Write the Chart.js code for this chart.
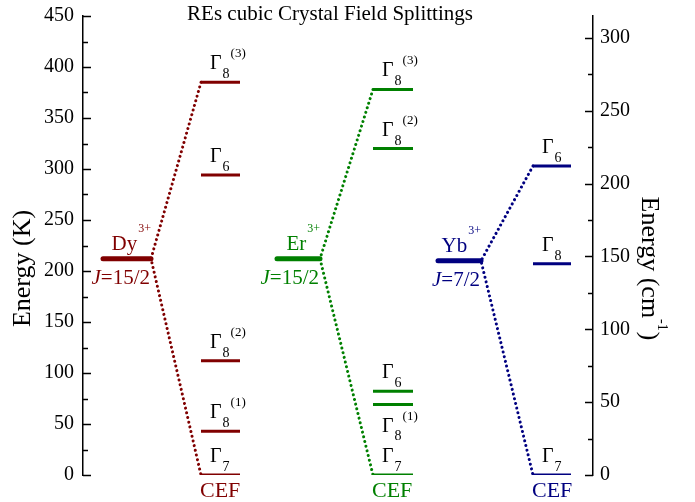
<!DOCTYPE html>
<html>
<head>
<meta charset="utf-8">
<title>REs cubic Crystal Field Splittings</title>
<script src="https://cdn.jsdelivr.net/npm/chart.js@4/dist/chart.umd.min.js"></script>
<style>
    html, body { margin: 0; padding: 0; background: #ffffff; }
    #wrap { width: 695px; height: 502px; position: relative; }
</style>
</head>
<body>
<div id="wrap"><canvas id="cef-chart"></canvas></div>
<script>
/**
 * Crystal field level schemes of Dy3+, Er3+ and Yb3+ in cubic symmetry
 */

// Data (energies in K)
const ions = ['Dy', 'Er', 'Yb'];
const ionJ = ['15/2', '15/2', '7/2'];
const freeIonK = [212, 212, 210];

const dyLevelsK = [385, 294, 112, 43, 0];
const erLevelsK = [378, 320, 82, 69, 0];
const ybLevelsK = [303, 207, 0];

const dyGammaSub = ['8', '6', '8', '8', '7'];
const dyGammaSup = ['(3)', '', '(2)', '(1)', ''];
const erGammaSub = ['8', '8', '6', '8', '7'];
const erGammaSup = ['(3)', '(2)', '', '(1)', ''];
const ybGammaSub = ['6', '8', '7'];
const ybGammaSup = ['', '', ''];

const leftTicksK = [0, 50, 100, 150, 200, 250, 300, 350, 400, 450];
const rightTicksCm = [0, 50, 100, 150, 200, 250, 300];
const K_TO_CM = 0.7;   // right axis scale as drawn in the figure

// Layout (x scale runs 0..51, columns in those units)
const X_MAX = 51;
const ionBarX = [[2.0, 6.8], [19.4, 23.7], [35.5, 39.8]];
const levelBarX = [[11.8, 15.7], [29.0, 33.0], [45.0, 48.8]];
const labelBelow = [[], [3], []];   // Er Gamma8(1) label sits under its bar
const colors = ['#800000', '#008000', '#000080'];

const levels = [dyLevelsK, erLevelsK, ybLevelsK];
const gammaSub = [dyGammaSub, erGammaSub, ybGammaSub];
const gammaSup = [dyGammaSup, erGammaSup, ybGammaSup];

const SERIF = '"Liberation Serif", "Times New Roman", serif';
Chart.defaults.font.family = SERIF;
Chart.defaults.color = '#000000';

/**
 * Build all line datasets: free-ion bar, CEF levels and dotted connectors
 */
function buildDatasets() {
    const sets = [];
    ions.forEach((ion, i) => {
        const lv = levels[i];
        const top = Math.max(...lv);
        const bottom = Math.min(...lv);

        // dotted connectors
        sets.push({
            data: [
                { x: levelBarX[i][0], y: top },
                { x: ionBarX[i][1], y: freeIonK[i] },
                { x: levelBarX[i][0], y: bottom }
            ],
            borderColor: colors[i],
            borderWidth: 3,
            borderDash: [0.01, 4.8],
            borderCapStyle: 'round',
            pointRadius: 0,
            tension: 0
        });

        // free ion J multiplet
        sets.push({
            data: [
                { x: ionBarX[i][0], y: freeIonK[i] },
                { x: ionBarX[i][1], y: freeIonK[i] }
            ],
            borderColor: colors[i],
            borderWidth: 5,
            borderCapStyle: 'round',
            pointRadius: 0
        });

        // crystal field levels
        lv.forEach(e => {
            sets.push({
                data: [
                    { x: levelBarX[i][0], y: e },
                    { x: levelBarX[i][1], y: e }
                ],
                borderColor: colors[i],
                borderWidth: 3,
                borderCapStyle: 'butt',
                pointRadius: 0
            });
        });
    });
    return sets;
}

// keep the axis box flush with the layout padding (no extra room for tick labels)
function fixAxis(width) {
    return s => {
        s.width = width;
        s.paddingTop = 0;
        s.paddingBottom = 0;
    };
}

// Inward ticks on both axes
const tickPlugin = {
    id: 'inwardTicks',
    afterDraw(chart) {
        const ctx = chart.ctx;
        const area = chart.chartArea;
        const yL = chart.scales.y;
        const yR = chart.scales.y2;
        ctx.save();
        ctx.strokeStyle = '#000000';
        ctx.lineWidth = 1.5;
        ctx.beginPath();
        for (let v = 0; v <= 450; v += 25) {
            const p = Math.round(yL.getPixelForValue(v)) + 0.5;
            const len = v % 50 === 0 ? 8 : 5;
            ctx.moveTo(area.left, p);
            ctx.lineTo(area.left + len, p);
        }
        for (let v = 0; v <= 450 * K_TO_CM; v += 25) {
            const p = Math.round(yR.getPixelForValue(v)) + 0.5;
            const len = v % 50 === 0 ? 8 : 5;
            ctx.moveTo(area.right, p);
            ctx.lineTo(area.right - len, p);
        }
        ctx.stroke();
        ctx.restore();
    }
};

// Text: level names, ion names, CEF, axis titles and chart title
const labelPlugin = {
    id: 'levelLabels',
    afterDatasetsDraw(chart) {
        const ctx = chart.ctx;
        const xs = chart.scales.x;
        const ys = chart.scales.y;
        const area = chart.chartArea;
        ctx.save();
        ctx.textBaseline = 'alphabetic';
        ctx.textAlign = 'left';

        ions.forEach((ion, i) => {
            const left = xs.getPixelForValue(levelBarX[i][0]);
            const lv = levels[i];

            lv.forEach((e, j) => {
                const py = ys.getPixelForValue(e);
                const below = labelBelow[i].includes(j);
                const gx = left + 9;
                ctx.fillStyle = '#000000';
                ctx.font = '20px ' + SERIF;
                ctx.fillText('\u0393', gx, below ? py + 27 : py - 13);
                const gw = ctx.measureText('\u0393').width;
                ctx.font = '14px ' + SERIF;
                ctx.fillText(gammaSub[i][j], gx + gw + 1, below ? py + 35 : py - 4);
                const sw = ctx.measureText(gammaSub[i][j]).width;
                if (gammaSup[i][j]) {
                    ctx.font = '13px ' + SERIF;
                    ctx.fillText(gammaSup[i][j], gx + gw + sw + 2, below ? py + 15 : py - 25);
                }
            });

            // CEF under the ground state
            const pyBottom = ys.getPixelForValue(Math.min(...lv));
            ctx.fillStyle = colors[i];
            ctx.font = '22px ' + SERIF;
            ctx.fillText('CEF', left - 1, pyBottom + 22);

            // ion name with 3+ and J value
            const right = xs.getPixelForValue(ionBarX[i][1]);
            const py = ys.getPixelForValue(freeIonK[i]);
            ctx.font = '12px ' + SERIF;
            const supW = ctx.measureText('3+').width;
            ctx.fillText('3+', right - supW, py - 27);
            ctx.font = '21px ' + SERIF;
            const nameW = ctx.measureText(ion).width;
            ctx.fillText(ion, right - supW - nameW - 1, py - 9);

            const rest = '=' + ionJ[i];
            const restW = ctx.measureText(rest).width;
            ctx.fillText(rest, right - 1 - restW, py + 25);
            ctx.font = 'italic 21px ' + SERIF;
            const jW = ctx.measureText('J').width;
            ctx.fillText('J', right - 1 - restW - jW, py + 25);
        });

        // chart title
        ctx.fillStyle = '#000000';
        ctx.textAlign = 'center';
        ctx.font = '21px ' + SERIF;
        ctx.fillText('REs cubic Crystal Field Splittings', 330, 20);

        // axis titles
        const midY = (area.top + area.bottom) / 2 + 23;
        ctx.font = '26px ' + SERIF;
        ctx.save();
        ctx.translate(30, midY);
        ctx.rotate(-Math.PI / 2);
        ctx.fillText('Energy (K)', 0, 0);
        ctx.restore();

        ctx.save();
        ctx.translate(642, midY);
        ctx.rotate(Math.PI / 2);
        ctx.textAlign = 'left';
        const a = 'Energy (cm';
        ctx.font = '26px ' + SERIF;
        const aw = ctx.measureText(a).width;
        ctx.font = '14px ' + SERIF;
        const sw = ctx.measureText('-1').width;
        ctx.font = '26px ' + SERIF;
        const cw = ctx.measureText(')').width;
        const x0 = -(aw + sw + 2 + cw) / 2;
        ctx.fillText(a, x0, 0);
        ctx.fillText(')', x0 + aw + sw + 2, 0);
        ctx.font = '14px ' + SERIF;
        ctx.fillText('-1', x0 + aw + 1, -16);
        ctx.restore();

        ctx.restore();
    }
};

const ctx = document.getElementById('cef-chart').getContext('2d');
const cefChart = new Chart(ctx, {
    type: 'line',
    data: { datasets: buildDatasets() },
    options: {
        responsive: true,
        maintainAspectRatio: false,
        animation: false,
        layout: { padding: { top: 16, bottom: 27, left: 0, right: 0 } },
        plugins: {
            legend: { display: false },
            tooltip: { enabled: false },
            title: { display: false }
        },
        scales: {
            x: { type: 'linear', min: 0, max: X_MAX, display: false },
            y: {
                position: 'left',
                min: 0,
                max: 450,
                afterFit: fixAxis(83),
                afterBuildTicks: s => { s.ticks = leftTicksK.map(v => ({ value: v })); },
                ticks: { font: { size: 20 }, color: '#000000', padding: 9 },
                grid: { drawOnChartArea: false, drawTicks: false },
                border: { display: true, color: '#000000', width: 1.5 }
            },
            y2: {
                position: 'right',
                min: 0,
                max: 450 * K_TO_CM,
                afterFit: fixAxis(102),
                afterBuildTicks: s => { s.ticks = rightTicksCm.map(v => ({ value: v })); },
                ticks: { font: { size: 20 }, color: '#000000', padding: 7 },
                grid: { drawOnChartArea: false, drawTicks: false },
                border: { display: true, color: '#000000', width: 1.5 }
            }
        }
    },
    plugins: [tickPlugin, labelPlugin]
});
</script>
</body>
</html>
